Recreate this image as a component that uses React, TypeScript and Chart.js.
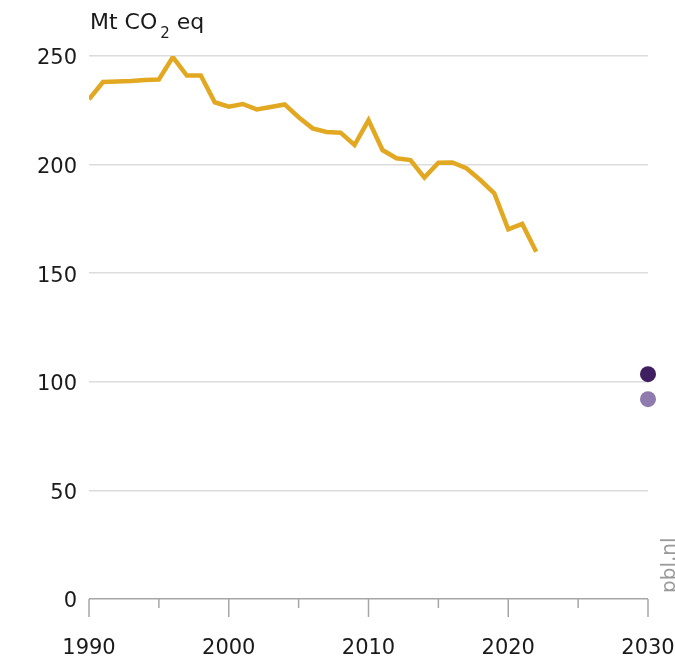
import React, { useEffect, useRef } from "react";
import { Chart, registerables } from "chart.js";

Chart.register(...registerables);

const years = [1990, 1991, 1992, 1993, 1994, 1995, 1996, 1997, 1998, 1999, 2000, 2001, 2002, 2003, 2004, 2005, 2006, 2007, 2008, 2009, 2010, 2011, 2012, 2013, 2014, 2015, 2016, 2017, 2018, 2019, 2020, 2021, 2022];
const emissions = [230.1, 238.0, 238.3, 238.5, 239.0, 239.2, 249.5, 241.0, 241.0, 228.7, 226.7, 227.9, 225.4, 226.5, 227.7, 221.8, 216.7, 215.0, 214.7, 209.0, 220.5, 206.7, 202.9, 202.1, 194.0, 200.9, 201.0, 198.3, 192.9, 186.8, 170.2, 172.7, 159.9];
const targetYear = 2030;
const targetHigh = 103.5;
const targetLow = 92;
const xTickValues = [1990, 1995, 2000, 2005, 2010, 2015, 2020, 2025, 2030];
const xLabelValues = [1990, 2000, 2010, 2020, 2030];
const yTicks = [0, 50, 100, 150, 200, 250];
const unitMain = "Mt CO";
const unitSub = "2";
const unitTail = " eq";
const sourceText = "pbl.nl";

const FONT = "'DejaVu Sans', sans-serif";

export default function App() {
  const ref = useRef<HTMLCanvasElement | null>(null);
  useEffect(() => {
    document.body.style.margin = "0";
    const canvas = ref.current!;
    const extras = {
      id: "extras",
      afterDraw(chart: any) {
        const ctx = chart.ctx;
        const xs = chart.scales.x;
        const ys = chart.scales.y;
        const y0 = ys.getPixelForValue(0);
        ctx.save();
        ctx.strokeStyle = "#a6a6a6";
        ctx.lineWidth = 1.5;
        for (const v of xTickValues) {
          const px = xs.getPixelForValue(v);
          const len = v % 10 === 0 ? 18 : 9;
          ctx.beginPath();
          ctx.moveTo(px, y0);
          ctx.lineTo(px, y0 + len);
          ctx.stroke();
        }
        ctx.fillStyle = "#1a1a1a";
        ctx.textBaseline = "alphabetic";
        ctx.textAlign = "left";
        ctx.font = `22px ${FONT}`;
        let tx = 90;
        const ty = 29;
        ctx.fillText(unitMain, tx, ty);
        tx += ctx.measureText(unitMain).width + 3;
        ctx.font = `15px ${FONT}`;
        ctx.fillText(unitSub, tx, ty + 9);
        tx += ctx.measureText(unitSub).width;
        ctx.font = `22px ${FONT}`;
        ctx.fillText(unitTail, tx, ty);
        ctx.translate(675, 593);
        ctx.rotate(-Math.PI / 2);
        ctx.fillStyle = "#9a9a9a";
        ctx.font = `20px ${FONT}`;
        ctx.fillText(sourceText, 0, 0);
        ctx.restore();
      },
    };
    const chart = new Chart(canvas, {
      type: "line",
      plugins: [extras],
      data: {
        datasets: [
          {
            data: years.map((y, i) => ({ x: y, y: emissions[i] })),
            borderColor: "#e2a822",
            borderWidth: 4.5,
            pointRadius: 0,
            tension: 0,
            fill: false,
          },
          {
            data: [{ x: targetYear, y: targetHigh }],
            showLine: false,
            pointRadius: 8,
            pointBackgroundColor: "#3f1f60",
            pointBorderWidth: 0,
            borderColor: "#3f1f60",
            clip: false as any,
          },
          {
            data: [{ x: targetYear, y: targetLow }],
            showLine: false,
            pointRadius: 8,
            pointBackgroundColor: "#8f7bad",
            pointBorderWidth: 0,
            borderColor: "#8f7bad",
            clip: false as any,
          },
        ],
      },
      options: {
        animation: false,
        responsive: false,
        devicePixelRatio: 1,
        layout: { padding: { left: 0, right: 27, top: 56, bottom: 0 } },
        plugins: { legend: { display: false }, tooltip: { enabled: false } },
        scales: {
          x: {
            type: "linear",
            min: 1990,
            max: 2030,
            afterFit: (s: any) => { s.height = 62; s.paddingLeft = 0; s.paddingRight = 0; },
            afterBuildTicks: (s: any) => { s.ticks = xLabelValues.map((v) => ({ value: v })); },
            ticks: {
              padding: 37,
              color: "#1a1a1a",
              font: { family: FONT, size: 21 },
              callback: (v: any) => String(v),
              maxRotation: 0,
              autoSkip: false,
            },
            grid: { display: false, drawTicks: false, tickLength: 0 },
            border: { display: false },
          },
          y: {
            min: 0,
            max: 250,
            afterFit: (s: any) => { s.width = 89; s.paddingTop = 0; s.paddingBottom = 0; },
            afterBuildTicks: (s: any) => { s.ticks = yTicks.map((v) => ({ value: v })); },
            ticks: {
              padding: 12,
              labelOffset: 3,
              color: "#1a1a1a",
              font: { family: FONT, size: 21 },
            },
            grid: {
              drawTicks: false,
              tickLength: 0,
              lineWidth: 1.5,
              color: (c: any) => (c.tick && c.tick.value === 0 ? "#a6a6a6" : "#dcdcdc"),
            },
            border: { display: false },
          },
        },
      },
    });
    return () => chart.destroy();
  }, []);
  return (
    <div style={{ width: 675, height: 661, position: "relative", overflow: "hidden", background: "#fff" }}>
      <canvas ref={ref} width={675} height={661} style={{ display: "block" }} />
    </div>
  );
}
